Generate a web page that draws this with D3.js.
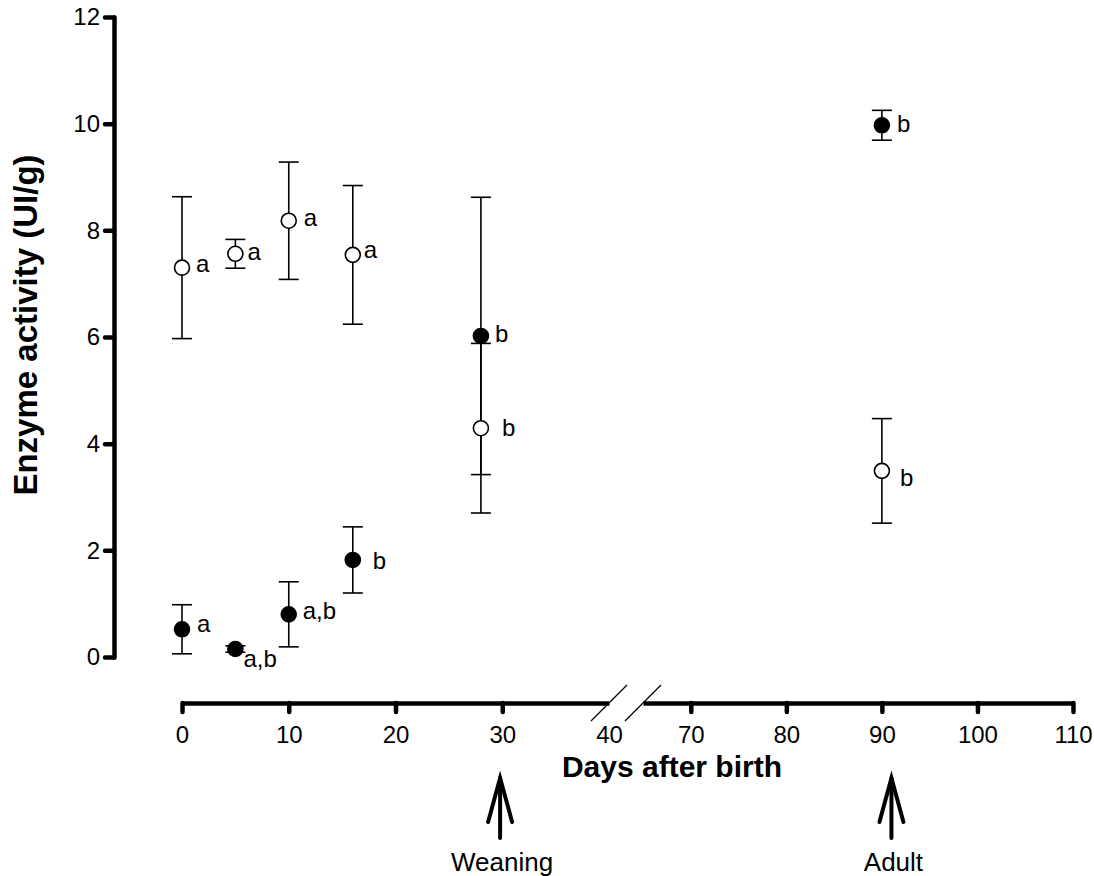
<!DOCTYPE html>
<html>
<head>
<meta charset="utf-8">
<script src="https://cdn.jsdelivr.net/npm/d3@7"></script>
<style>
  body { margin: 0; background: #fff; }
  text { font-family: Arial, "Liberation Sans", sans-serif; fill: #000; }
</style>
</head>
<body>
<div id="chart"></div>
<script>
// days after birth
var days = [0, 5, 10, 16, 28, 90];
// open circles
var openMean = [7.30, 7.56, 8.18, 7.54, 4.29, 3.49];
var openSE   = [1.33, 0.27, 1.10, 1.30, 1.59, 0.98];
var openLetters = ["a", "a", "a", "a", "b", "b"];
// filled circles
var filledMean = [0.52, 0.15, 0.80, 1.82, 6.02, 9.97];
var filledSE   = [0.46, 0.06, 0.61, 0.62, 2.60, 0.28];
var filledLetters = ["a", "a,b", "a,b", "b", "b", "b"];

var yTicks = [0, 2, 4, 6, 8, 10, 12];
var xTicksLeft = [0, 10, 20, 30, 40];
var xTicksRight = [70, 80, 90, 100, 110];
var markers = [{day: 29.8, label: "Weaning"}, {day: 91, label: "Adult"}];

function draw_chart(lugar)
{
  "use strict";

  var width = 1094, height = 876;

  // letter offsets (dx, dy) from the circle centre
  var openOff = [[14, 4], [12, 6], [15, 5], [11, 3], [21, 8], [18, 15]];
  var filledOff = [[15, 3], [8, 18], [14, 5], [20, 9], [14, 6], [15, 7]];

  var svg = d3.select(lugar)
    .append("svg")
      .attr("width", width)
      .attr("height", height);

  var y = d3.scaleLinear().domain([0, 12]).range([657, 17]);
  var x1 = d3.scaleLinear().domain([0, 40]).range([182, 609]);
  var x2 = d3.scaleLinear().domain([65, 110]).range([643, 1073]);
  var x = function (d) { return d <= 40 ? x1(d) : x2(d); };

  var axisY = 703;

  // y axis
  var gy = svg.append("g")
    .attr("transform", "translate(114,0)")
    .call(d3.axisLeft(y).tickValues(yTicks).tickSize(9).tickSizeOuter(0).tickPadding(5));
  gy.select(".domain").attr("stroke-width", 4.5).attr("stroke-linecap", "round");
  gy.selectAll(".tick line").attr("stroke-width", 4.5).attr("stroke-linecap", "round");
  gy.selectAll(".tick text")
    .style("font-size", "24px")
    .style("font-family", "Arial, 'Liberation Sans', sans-serif");

  // x axis, two pieces with a break
  function styleX(g, hideLast) {
    g.select(".domain").attr("stroke-width", 4.5).attr("stroke-linecap", "butt");
    g.selectAll(".tick line").attr("stroke-width", 4.5).attr("stroke-linecap", "round");
    g.selectAll(".tick text")
      .style("font-size", "24px")
      .style("font-family", "Arial, 'Liberation Sans', sans-serif");
    if (hideLast) {
      g.selectAll(".tick line").filter(function (d) { return d === 40; }).remove();
    }
  }
  var gx1 = svg.append("g")
    .attr("transform", "translate(0," + axisY + ")")
    .call(d3.axisBottom(x1).tickValues(xTicksLeft).tickSize(9).tickSizeOuter(0).tickPadding(14));
  styleX(gx1, true);
  var gx2 = svg.append("g")
    .attr("transform", "translate(0," + axisY + ")")
    .call(d3.axisBottom(x2).tickValues(xTicksRight).tickSize(9).tickSizeOuter(0).tickPadding(14));
  styleX(gx2, false);

  // break slashes
  [x1(40), x2(65)].forEach(function (bx) {
    svg.append("line")
      .attr("x1", bx - 18).attr("y1", axisY + 18)
      .attr("x2", bx + 18).attr("y2", axisY - 18)
      .attr("stroke", "#000").attr("stroke-width", 1.2);
  });

  // axis titles
  svg.append("text")
    .attr("x", 672).attr("y", 777)
    .attr("text-anchor", "middle")
    .style("font-size", "30px").style("font-weight", "bold")
    .text("Days after birth");

  svg.append("text")
    .attr("transform", "translate(37,325) rotate(-90)")
    .attr("text-anchor", "middle")
    .style("font-size", "33px").style("font-weight", "bold")
    .text("Enzyme activity (UI/g)");

  // weaning / adult arrows
  markers.forEach(function (m) {
    var ax = x(m.day);
    var g = svg.append("g").attr("stroke", "#000").attr("stroke-width", 4)
      .attr("stroke-linecap", "round").attr("fill", "none");
    g.append("line").attr("x1", ax).attr("x2", ax).attr("y1", 778).attr("y2", 838);
    g.append("path").attr("d", "M" + (ax - 12) + ",822L" + ax + ",778L" + (ax + 12) + ",822")
      .attr("stroke-linejoin", "miter");
    svg.append("text")
      .attr("x", ax + 2).attr("y", 871)
      .attr("text-anchor", "middle")
      .style("font-size", "26px")
      .text(m.label);
  });

  // series
  var series = [
    {mean: openMean, se: openSE, letters: openLetters, off: openOff, fill: "#fff"},
    {mean: filledMean, se: filledSE, letters: filledLetters, off: filledOff, fill: "#000"}
  ];

  var bars = svg.append("g").attr("stroke", "#000").attr("stroke-width", 1.6);
  series.forEach(function (s) {
    days.forEach(function (d, i) {
      var cx = x(d), lo = y(s.mean[i] - s.se[i]), hi = y(s.mean[i] + s.se[i]);
      bars.append("line").attr("x1", cx).attr("x2", cx).attr("y1", lo).attr("y2", hi);
      bars.append("line").attr("x1", cx - 10).attr("x2", cx + 10).attr("y1", lo).attr("y2", lo);
      bars.append("line").attr("x1", cx - 10).attr("x2", cx + 10).attr("y1", hi).attr("y2", hi);
    });
  });

  series.forEach(function (s) {
    svg.append("g").selectAll("circle")
      .data(days)
      .enter().append("circle")
        .attr("cx", function (d) { return x(d); })
        .attr("cy", function (d, i) { return y(s.mean[i]); })
        .attr("r", 7.5)
        .attr("fill", s.fill)
        .attr("stroke", "#000")
        .attr("stroke-width", 1.6);

    svg.append("g").selectAll("text")
      .data(days)
      .enter().append("text")
        .attr("x", function (d, i) { return x(d) + s.off[i][0]; })
        .attr("y", function (d, i) { return y(s.mean[i]) + s.off[i][1]; })
        .style("font-size", "24px")
        .text(function (d, i) { return s.letters[i]; });
  });
}

draw_chart("#chart");
</script>
</body>
</html>
